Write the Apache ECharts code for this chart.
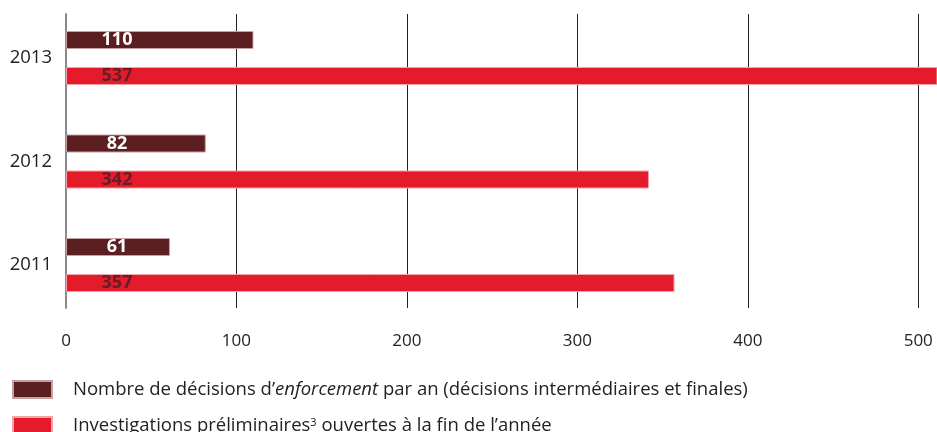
<!DOCTYPE html>
<html>
<head>
<meta charset="utf-8">
<script src="https://cdn.jsdelivr.net/npm/echarts@6/dist/echarts.min.js"></script>
<style>
  html, body { margin: 0; padding: 0; background: #fff; }
  #chart { width: 937px; height: 432px; }
</style>
</head>
<body>
<div id="chart"></div>
<script>
// Years shown on the category axis (bottom to top)
const years = ['2011', '2012', '2013'];
// Enforcement decisions per year (interim and final)
const decisions = [61, 82, 110];
// Preliminary investigations open at year end
const investigations = [357, 342, 537];
// Value axis ticks
const xTicks = [0, 100, 200, 300, 400, 500];

const nameDecisions = 'Nombre de décisions d’enforcement par an (décisions intermédiaires et finales)';
const nameInvest = 'Investigations préliminaires3 ouvertes à la fin de l’année';

const FONT = '"Open Sans", sans-serif';
const DARK = '#5b1f22';
const RED = '#e31b2a';
const X_MAX = 511;

const chart = echarts.init(document.getElementById('chart'), null, { renderer: 'canvas' });

chart.setOption({
  animation: false,
  textStyle: { fontFamily: FONT },
  grid: [
    { left: 66, right: 0, top: 6.25, bottom: 115.25 },
    { left: 66, right: 0, top: 14, height: 294 }
  ],
  xAxis: [
    {
      gridIndex: 0, type: 'value', min: 0, max: X_MAX, interval: 100,
      axisLine: { show: false }, axisTick: { show: false },
      axisLabel: { show: false }, splitLine: { show: false }
    },
    {
      gridIndex: 1, type: 'value', min: 0, max: X_MAX, interval: 100,
      axisLine: { show: false }, axisTick: { show: false },
      axisLabel: {
        show: true, margin: 25, fontSize: 17, color: '#222', fontFamily: FONT,
        showMaxLabel: false,
        formatter: v => (xTicks.indexOf(v) >= 0 ? String(v) : '')
      },
      splitLine: {
        show: true, showMinLine: false, showMaxLine: false,
        lineStyle: { color: '#222', width: 1 }
      }
    }
  ],
  yAxis: [
    {
      gridIndex: 0, type: 'category', data: years,
      axisLine: { show: false }, axisTick: { show: false },
      axisLabel: { margin: 14, fontSize: 18.5, color: '#222', fontFamily: FONT }
    },
    {
      gridIndex: 1, type: 'category', data: years,
      axisLine: { show: true, lineStyle: { color: '#8a8a8a', width: 2 } },
      axisTick: { show: false }, axisLabel: { show: false }, splitLine: { show: false }
    }
  ],
  legend: {
    orient: 'vertical', left: 12, top: 380, height: 80, padding: 0,
    itemWidth: 39, itemHeight: 17, itemGap: 17, icon: 'rect',
    data: [nameDecisions, nameInvest],
    formatter: name => {
      if (name === nameDecisions) {
        return 'Nombre de décisions d’{i|enforcement} par an (décisions intermédiaires et finales)';
      }
      return 'Investigations préliminaires{sup|3} ouvertes à la fin de l’année';
    },
    textStyle: {
      fontSize: 18.5, color: '#222', fontFamily: FONT, lineHeight: 17,
      padding: [0, 0, 0, 16],
      rich: {
        i: { fontSize: 18.5, fontStyle: 'italic', color: '#222', fontFamily: FONT, lineHeight: 17 },
        sup: { fontSize: 11, color: '#222', fontFamily: FONT, verticalAlign: 'top', lineHeight: 17, padding: [0, 0, 8, 0] }
      }
    }
  },
  series: [
    {
      name: nameDecisions, type: 'bar', xAxisIndex: 0, yAxisIndex: 0,
      data: decisions, barWidth: 18, barGap: '100%',
      itemStyle: { color: DARK, borderColor: '#c9a0a0', borderWidth: 1 },
      label: {
        show: true, position: [51, '50%'], align: 'center', verticalAlign: 'middle',
        fontSize: 18, fontWeight: 'bold', color: '#fff', fontFamily: FONT
      }
    },
    {
      name: nameInvest, type: 'bar', xAxisIndex: 0, yAxisIndex: 0,
      data: investigations, barWidth: 18, barGap: '100%',
      itemStyle: { color: RED, borderColor: '#f3a3aa', borderWidth: 1 },
      label: {
        show: true, position: [51, '50%'], align: 'center', verticalAlign: 'middle',
        fontSize: 18, fontWeight: 'bold', color: '#6a1c24', fontFamily: FONT
      }
    }
  ]
});
</script>
</body>
</html>
